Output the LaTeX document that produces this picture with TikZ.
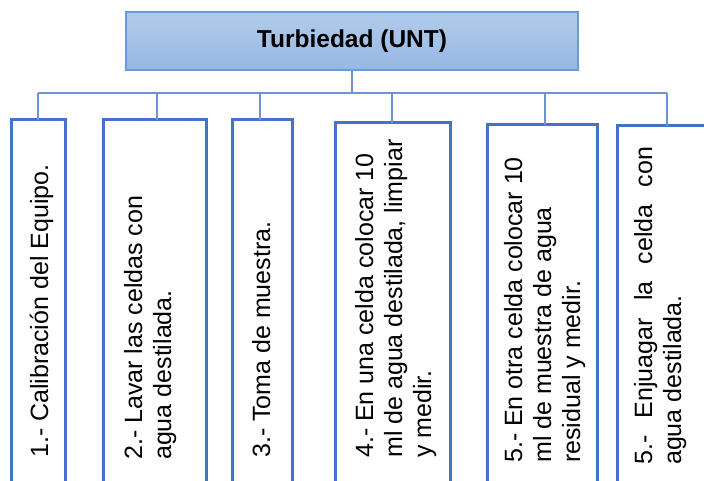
\documentclass[tikz,border=0pt]{standalone}
\usepackage{fontspec}
\setmainfont{Liberation Sans}
\definecolor{boxblue}{HTML}{4472C4}
\definecolor{linkblue}{HTML}{6F93D3}
\definecolor{topedge}{HTML}{6A9BDA}
\definecolor{toptop}{HTML}{B2CBEA}
\definecolor{topbot}{HTML}{97B7E2}
\tikzset{
  stepbox/.style={draw=boxblue, line width=3pt},
  link/.style={draw=linkblue, line width=1.5pt},
  steptext/.style={rotate=90, anchor=base west, align=left, inner sep=0pt,
    font=\fontsize{25}{29}\selectfont},
}
\begin{document}
\begin{tikzpicture}[x=1pt,y=-1pt]
\useasboundingbox (0,0) rectangle (704,481);
% top box
\node[draw=topedge, line width=1.5pt, top color=toptop, bottom color=topbot,
  minimum width=452pt, minimum height=58pt, inner sep=0pt,
  font=\bfseries\fontsize{24.5}{29}\selectfont] (top) at (352,41) {Turbiedad (UNT)};
% bus
\coordinate (bus) at (352,93);
\coordinate (b1) at (38,93);
\coordinate (b6) at (667,93);
% step boxes
\draw[stepbox] (11,500) -- (11,120) -- (65,120) -- (65,500);
\draw[stepbox] (103,500) -- (103,120) -- (206,120) -- (206,500);
\draw[stepbox] (232,500) -- (232,120) -- (292,120) -- (292,500);
\draw[stepbox] (335,500) -- (335,123) -- (450,123) -- (450,500);
\draw[stepbox] (487,500) -- (487,125) -- (597,125) -- (597,500);
\draw[stepbox] (617,500) -- (617,126) -- (720,126);
\coordinate (t1) at (38,120);
\coordinate (t2) at (157,120);
\coordinate (t3) at (260,120);
\coordinate (t4) at (392,123);
\coordinate (t5) at (545,125);
\coordinate (t6) at (667,126);
\coordinate (c2) at (157,93);
\coordinate (c3) at (260,93);
\coordinate (c4) at (392,93);
\coordinate (c5) at (545,93);
% connectors
\draw[link] (top.south) -- (bus);
\draw[link] (b1) -- (b6);
\draw[link] (b1) -- (t1);
\draw[link] (c2) -- (t2);
\draw[link] (c3) -- (t3);
\draw[link] (c4) -- (t4);
\draw[link] (c5) -- (t5);
\draw[link] (b6) -- (t6);
% texts (anchor at baseline of last line)
\node[steptext] (s1) at (48,458) {1.- Calibración del Equipo.};
\node[steptext] (s2) at (171,460) {2.- Lavar las celdas con\\agua destilada.};
\node[steptext] (s3) at (270,458) {3.- Toma de muestra.};
\node[steptext] (s4) at (431,458) {4.- En una celda colocar 10\\ml de agua destilada, limpiar\\y medir.};
\node[steptext] (s5) at (580,463) {5.- En otra celda colocar 10\\ml de muestra de agua\\residual y medir.};
\node[steptext] (s6) at (681,465) {\makebox[318pt][s]{5.- Enjuagar la celda con}\\agua destilada.};
\end{tikzpicture}
\end{document}
